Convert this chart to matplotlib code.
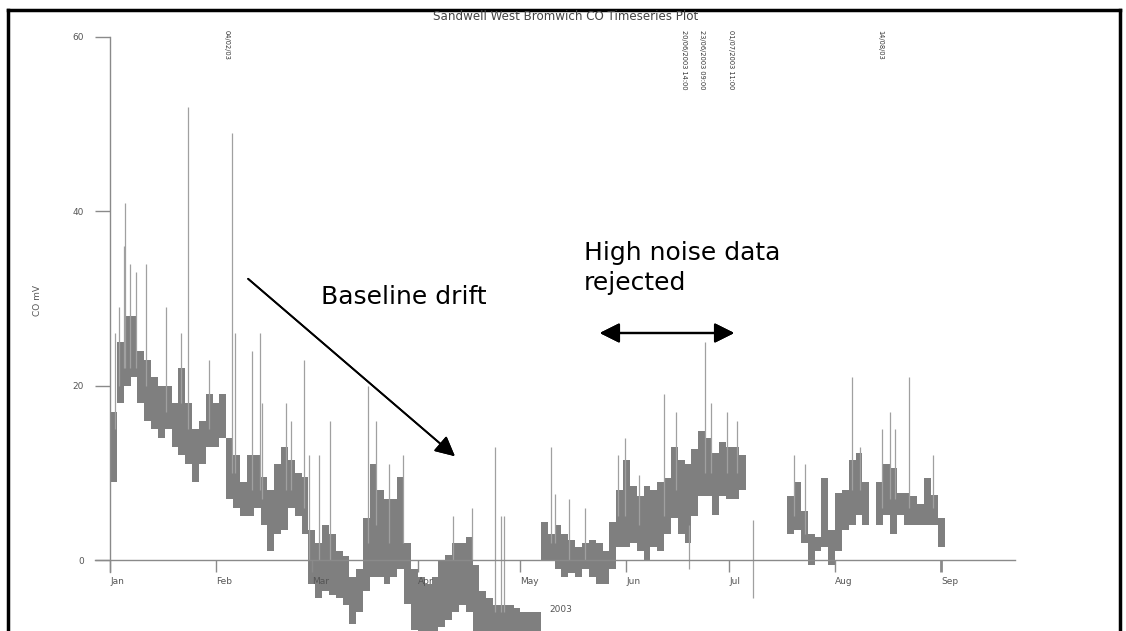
import numpy as np
import pandas as pd
import matplotlib
matplotlib.use("Agg")
import matplotlib.pyplot as plt
import matplotlib.dates as mdates
from matplotlib.lines import Line2D
import datetime

# 2-day bins from 1 Jan 2003, band low / high of the CO signal (mV)
bin_start = pd.date_range("2003-01-01", "2003-08-31", freq="2D")
band_lo = [9, 18, 20, 21, 18, 16, 15, 14, 15, 13,
           12, 11, 9, 11, 13, 13, 14, 7, 6, 5,
           5, 6, 4, 1, 3, 3.5, 6, 5, 3, -2.7,
           -4.4, -3.5, -4, -4.4, -5.2, -7.3, -6, -3.5, -2, -2,
           -2.7, -2, -1, -5, -8, -8.5, -8.5, -8.5, -7.7, -6.9,
           -6, -5.2, -6, -8.5, -8.5, -8.5, -8.5, -8.5, -8.5, -8.5,
           -8.5, -8.5, -8.5, 0, 0, -1, -2, -1.5, -2, -1,
           -2, -2.7, -2.7, -1, 1.5, 1.5, 2, 1, 0, 1.5,
           1, 3, 4.8, 3, 2, 5, 7.3, 7.3, 5.2, 7.3,
           7, 7, 8, np.nan, np.nan, np.nan, np.nan, np.nan, np.nan, 3,
           3.5, 2, -0.6, 1, 1.5, -0.6, 1, 3.5, 4, 5.2,
           4, np.nan, 4, 5.2, 3, 5.2, 4, 4, 4, 4,
           4, 1.5]
band_hi = [17, 25, 28, 28, 24, 23, 21, 20, 20, 18,
           22, 18, 15, 16, 19, 18, 19, 14, 12, 9,
           12, 12, 9.5, 8, 11, 13, 11.5, 10, 9.5, 3.5,
           2, 4, 3, 1, 0.5, -1.9, -1, 4.8, 11, 8,
           7, 7, 9.5, 2, -1, -2, -2.7, -2, 0, 0.6,
           2, 2, 2.7, -0.6, -3.5, -4.4, -5.2, -5.2, -5.2, -5.5,
           -6, -6, -6, 4.4, 3, 4, 3, 2.3, 1.5, 2,
           2.3, 2, 1, 4.4, 8, 11.5, 8.5, 7.3, 8.5, 8,
           9, 9.4, 13, 11.5, 11, 12.7, 14.8, 14, 12.3, 13.5,
           13, 13, 12, np.nan, np.nan, np.nan, np.nan, np.nan, np.nan, 7.3,
           9, 5.6, 3, 2.7, 9.4, 3.5, 7.7, 8, 11.5, 12.3,
           9, np.nan, 9, 11, 10.6, 7.7, 7.7, 7.3, 6.4, 9.4,
           7.5, 4.8]

# isolated spikes: days after 1 Jan, base and top value
spike_day = [1.5, 2.5, 4.2, 4.4, 5.9, 7.6, 10.6, 16.4, 20.6, 22.8, 28.9, 35.8, 36.5,
             41.5, 43.8, 44.3, 51.5, 53, 56.7, 58.2, 61, 64.3, 75.5, 77.8,
             81.7, 85.6, 100.4, 105.8, 112.7, 114.4, 115.3,
             128.8, 130, 134.3, 139, 148.6, 150.5, 154.8, 161.9, 165.4, 169.2,
             173.9, 175.7, 180.3, 183.3, 187.9,
             200.1, 203.2, 216.9, 219.4, 225.6, 228.1, 229.4, 233.7, 240.7]
spike_base = [15, 20, 22, 22, 22, 22, 20, 17, 18, 15, 15, 10, 10,
              8, 8, 7, 8, 8, 6, 0, 0, 0, 2, 4,
              2, 2, 0, 0, -6, -6, -6,
              2, 2, 0, 0, 5, 5, 4, 5, 8, -1,
              10, 10, 10, 10, -4.4,
              5, 3, 8, 8, 6, 7, 7, 6, 6]
spike_top = [26, 29, 36, 41, 34, 33, 34, 29, 26, 52, 23, 49, 26,
             24, 26, 18, 18, 16, 23, 12, 12, 16, 20, 16,
             11, 12, 5, 6, 13, 5, 5,
             13, 7.6, 7, 6, 12, 14, 9.8, 19, 17, 4,
             25, 18, 17, 16, 4.6,
             12, 11, 21, 13, 15, 17, 15, 21, 12]

y_ticks = [0, 20, 40, 60]

W, H = 1126, 631


def fx(px):
    return px / W


def fy(py):
    return 1 - py / H


start = datetime.datetime(2003, 1, 1)
spike_dates = [start + datetime.timedelta(days=d) for d in spike_day]

fig = plt.figure(figsize=(W / 100, H / 100), dpi=100)
ax = fig.add_axes([fx(95), 0, (1015 - 95) / W, (H - 37) / H])

lo = np.array(band_lo, dtype=float)
hi = np.array(band_hi, dtype=float)
ok = ~np.isnan(lo)
ax.bar(bin_start[ok], hi[ok] - lo[ok], bottom=lo[ok], width=2, align="edge",
       color="#7f7f7f", linewidth=0, zorder=3)
ax.vlines(spike_dates, spike_base, spike_top, color="#a0a0a0", linewidth=0.9, zorder=3)

ax.set_xlim(start - datetime.timedelta(days=4.4), start + datetime.timedelta(days=264.6))
ax.set_ylim(-8.14, 60)

# axes cross at Jan / 0
for s in ["top", "right"]:
    ax.spines[s].set_visible(False)
ax.spines["bottom"].set_position(("data", 0))
ax.spines["left"].set_position(("data", mdates.date2num(start)))
ax.spines["left"].set_bounds(-1.4, 60)
for s in ["bottom", "left"]:
    ax.spines[s].set_color("#8a8a8a")
    ax.spines[s].set_linewidth(1.0)
    ax.spines[s].set_zorder(4)

ax.xaxis.set_major_locator(mdates.MonthLocator())
ax.xaxis.set_major_formatter(mdates.DateFormatter("%b"))
ax.set_yticks(y_ticks)
ax.tick_params(axis="x", direction="out", length=8.5, width=1, color="#8a8a8a",
               labelsize=6.5, labelcolor="#555555", pad=4)
ax.tick_params(axis="y", direction="out", length=11, width=1, color="#8a8a8a",
               labelsize=6.5, labelcolor="#555555", pad=8)
for lab in ax.get_xticklabels():
    lab.set_ha("left")
ax.xaxis.get_major_ticks()[-1].tick1line.set_color("black")
ax.xaxis.get_major_ticks()[-1].tick1line.set_markeredgewidth(2)
ax.xaxis.set_zorder(5)  # month labels sit on top of the trace

fig.text(fx(549), fy(610), "2003", fontsize=6.5, color="#555555", va="center", ha="left")
fig.text(fx(38), fy(300), "CO mV", rotation=90, ha="center", va="center",
         fontsize=6.5, color="#555555")
fig.text(fx(566), fy(16), "Sandwell West Bromwich CO Timeseries Plot",
         ha="center", va="center", fontsize=8.6, color="#444444")

# small rotated event labels along the top
for xp, s in [(227, "04/02/03"), (684, "20/06/2003 14:00"), (702, "23/06/2003 09:00"),
              (731, "01/07/2003 11:00"), (880, "14/08/03")]:
    fig.text(fx(xp), fy(30), s, rotation=270, ha="center", va="top",
             fontsize=4.8, color="#333333")

# annotations (figure pixel positions)
fig.add_artist(plt.annotate("", xy=(fx(457), fy(458)), xytext=(fx(246), fy(277)),
                            xycoords="figure fraction", textcoords="figure fraction",
                            arrowprops=dict(arrowstyle="-|>", mutation_scale=30, lw=1.3,
                                            color="black")))
fig.text(fx(321), fy(297), "Baseline drift", fontsize=18, va="center", ha="left",
         color="black")
fig.add_artist(plt.annotate("", xy=(fx(737), fy(333)), xytext=(fx(597), fy(333)),
                            xycoords="figure fraction", textcoords="figure fraction",
                            arrowprops=dict(arrowstyle="<|-|>", mutation_scale=30, lw=1.6,
                                            color="black")))
fig.text(fx(584), fy(253), "High noise data", fontsize=18, va="center", ha="left",
         color="black")
fig.text(fx(584), fy(283), "rejected", fontsize=18, va="center", ha="left",
         color="black")

# page frame
for xs, ys in [([8, 8], [10, H]), ([8, 1120], [10, 10]), ([1120, 1120], [10, H])]:
    fig.add_artist(Line2D([fx(x) for x in xs], [fy(y) for y in ys],
                          transform=fig.transFigure, color="black", linewidth=2.5))

fig.savefig("out.png", dpi=100)
